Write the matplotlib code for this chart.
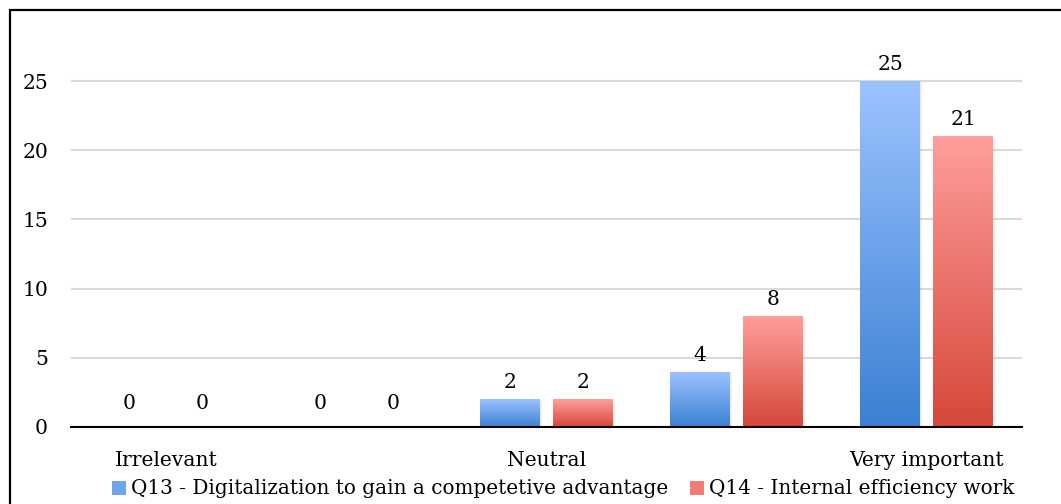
import numpy as np
import matplotlib
matplotlib.use("Agg")
import matplotlib.pyplot as plt
from matplotlib.patches import Rectangle, Patch
from matplotlib.colors import LinearSegmentedColormap

categories = ["Irrelevant", "", "Neutral", "", "Very important"]
q13 = [0, 0, 2, 4, 25]
q14 = [0, 0, 2, 8, 21]
series_names = ["Q13 - Digitalization to gain a competetive advantage",
                "Q14 - Internal efficiency work"]
yticks = [0, 5, 10, 15, 20, 25]

plt.rcParams['font.family'] = ['DejaVu Serif']
FS = 14.6

fig = plt.figure(figsize=(10.61, 5.04), dpi=100)
ax = fig.add_axes([71/1061, 1-427/504, (1022-71)/1061, (427-39.5)/504])

x = np.arange(len(categories))
w = 0.315
off = 0.192
blue_top, blue_bot = "#9DC3FF", "#3A80D2"
red_top, red_bot = "#FF9E9B", "#D5473A"

b1 = ax.bar(x - off, q13, w, color=blue_top, zorder=2)
b2 = ax.bar(x + off, q14, w, color=red_top, zorder=2)

def grad(bars, top, bot):
    cmap = LinearSegmentedColormap.from_list("g", [bot, top])
    g = np.linspace(0, 1, 256).reshape(-1, 1)
    for p in bars:
        h = p.get_height()
        if h <= 0:
            continue
        x0 = p.get_x(); bw = p.get_width()
        sh = Rectangle((x0 + 0.01, 0), bw, h - 0.1, facecolor="#000000", alpha=0.06,
                       edgecolor="none", zorder=1.5)
        ax.add_patch(sh)
        im = ax.imshow(g, extent=[x0, x0 + bw, 0, h], origin="lower", cmap=cmap,
                       aspect="auto", zorder=2.5, interpolation="bilinear")
        im.set_clip_path(p)

grad(b1, blue_top, blue_bot)
grad(b2, red_top, red_bot)

for bars, vals in ((b1, q13), (b2, q14)):
    for p, v in zip(bars, vals):
        ax.annotate(f"{v}", (p.get_x() + p.get_width()/2, v), xytext=(0, 5 if v > 0 else 10),
                    textcoords="offset points", ha="center", va="bottom", fontsize=FS)

ax.set_xlim(-0.5, len(categories) - 0.5)
ax.set_ylim(0, 28)
ax.set_yticks(yticks)
ax.set_xticks(x)
ax.set_xticklabels(categories, fontsize=FS)
ax.tick_params(axis="y", length=0, pad=16.5, labelsize=FS)
ax.tick_params(axis="x", length=0, pad=17, labelsize=FS)
ax.grid(axis="y", color="#D9D9D9", linewidth=1.5, zorder=0)
ax.set_axisbelow(True)
for s in ["top", "right", "left"]:
    ax.spines[s].set_visible(False)
ax.spines["bottom"].set_linewidth(1.5)
ax.spines["bottom"].set_zorder(3)

handles = [Patch(facecolor="#6FA3EC"), Patch(facecolor="#F07C76")]
fig.legend(handles, series_names, loc="center", bbox_to_anchor=(0.531, 1-489/504), ncol=2,
           frameon=False, fontsize=14.4, handlelength=0.7, handleheight=0.7, handletextpad=0.25,
           columnspacing=1.1, borderpad=0)

border = Rectangle((10/1061, -0.05), 1.1, 1 - 10/504 + 0.05, transform=fig.transFigure,
                   fill=False, edgecolor="black", linewidth=1.6, clip_on=False)
fig.add_artist(border)

fig.savefig("out.png", dpi=100)
